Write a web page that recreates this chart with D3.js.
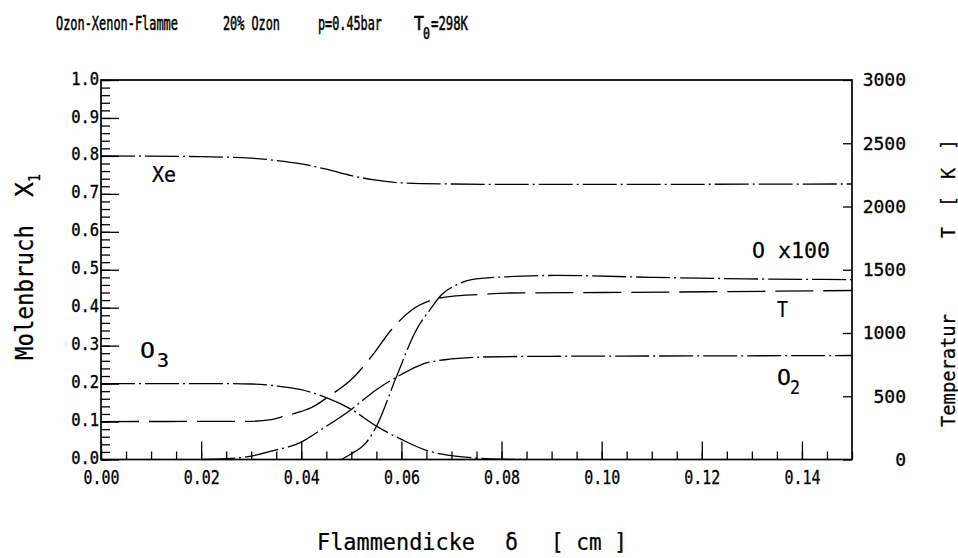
<!DOCTYPE html>
<html><head><meta charset="utf-8">
<script src="https://cdn.jsdelivr.net/npm/d3@7"></script>
<style>
body{margin:0;background:#fff}
svg{display:block}
text{font-family:"DejaVu Sans Mono","Liberation Mono",monospace;fill:#000}
</style>
</head><body>
<svg id="c" width="958" height="558"></svg>
<script>
// ---- data (x = Flammendicke in cm) ----
const xMajor = [0, 0.02, 0.04, 0.06, 0.08, 0.10, 0.12, 0.14];
const xMinor = d3.range(0, 0.1501, 0.005);
const yMajor = [0, 0.1, 0.2, 0.3, 0.4, 0.5, 0.6, 0.7, 0.8, 0.9, 1.0];
const yMinor = d3.range(0, 1.001, 0.02);
const tMajor = [0, 500, 1000, 1500, 2000, 2500, 3000];

// mole fractions (left axis)
const xe = [[0,0.800],[0.02,0.798],[0.03,0.794],[0.035,0.788],[0.04,0.779],[0.045,0.765],[0.05,0.748],[0.055,0.736],[0.06,0.729],[0.07,0.726],[0.08,0.725],[0.10,0.725],[0.15,0.726]];
const o3 = [[0,0.200],[0.025,0.200],[0.03,0.199],[0.035,0.194],[0.04,0.184],[0.045,0.163],[0.05,0.132],[0.055,0.088],[0.06,0.053],[0.065,0.024],[0.07,0.010],[0.075,0.004],[0.08,0.001],[0.085,0]];
const o2 = [[0.02,0],[0.025,0.002],[0.03,0.009],[0.034,0.022],[0.04,0.046],[0.044,0.079],[0.05,0.132],[0.055,0.184],[0.06,0.224],[0.064,0.250],[0.07,0.265],[0.076,0.270],[0.09,0.272],[0.12,0.273],[0.15,0.274]];
const oX100 = [[0.048,0],[0.05,0.015],[0.053,0.045],[0.055,0.087],[0.059,0.218],[0.063,0.342],[0.066,0.400],[0.068,0.434],[0.071,0.460],[0.074,0.474],[0.08,0.481],[0.091,0.485],[0.11,0.480],[0.129,0.476],[0.15,0.474]];
// temperature (right axis, K)
const temp = [[0,300],[0.03,302],[0.034,315],[0.0364,340],[0.04,380],[0.042,410],[0.046,513],[0.05,632],[0.054,813],[0.058,1026],[0.062,1180],[0.066,1260],[0.07,1290],[0.076,1305],[0.081,1316],[0.10,1320],[0.15,1336]];

// ---- drawing ----
const svg = d3.select("#c");
const x = d3.scaleLinear().domain([0, 0.15]).range([101, 852]);
const y = d3.scaleLinear().domain([0, 1]).range([459.5, 80]);
const yT = d3.scaleLinear().domain([0, 3000]).range([459.5, 80]);
const X0 = x.range()[0], X1 = x.range()[1], Y0 = y.range()[0], Y1 = y.range()[1];
const ADV = 0.602; // monospace advance per em

function tidy(g){
  g.select(".domain").remove();
  g.attr("font-family", null).attr("font-size", null);
  g.selectAll("line").attr("stroke", "#000").attr("stroke-width", 1.3);
}

// left axis
const gLm = svg.append("g").attr("transform", `translate(${X0},0)`)
  .call(d3.axisLeft(y).tickValues(yMinor).tickSize(-9).tickSizeOuter(0).tickFormat(""));
tidy(gLm);
const gL = svg.append("g").attr("transform", `translate(${X0},0)`)
  .call(d3.axisLeft(y).tickValues(yMajor).tickSize(-18).tickSizeOuter(0).tickPadding(2).tickFormat(d3.format(".1f")));
tidy(gL);
gL.selectAll("text").attr("font-size", 17).attr("dy", "0.24em")
  .attr("transform", `scale(${28 / (3 * ADV * 17)},1)`)
  .attr("stroke", "#000").attr("stroke-width", 0.35);

// bottom axis
const gBm = svg.append("g").attr("transform", `translate(0,${Y0})`)
  .call(d3.axisBottom(x).tickValues(xMinor).tickSize(-8).tickSizeOuter(0).tickFormat(""));
tidy(gBm);
const gB = svg.append("g").attr("transform", `translate(0,${Y0})`)
  .call(d3.axisBottom(x).tickValues(xMajor).tickSize(-18).tickSizeOuter(0).tickPadding(11).tickFormat(d3.format(".2f")));
tidy(gB);
gB.selectAll("text").attr("font-size", 19).attr("transform", `scale(${36 / (4 * ADV * 19)},1)`)
  .attr("stroke", "#000").attr("stroke-width", 0.3);

// right axis (temperature)
const gR = svg.append("g").attr("transform", `translate(${X1},0)`)
  .call(d3.axisRight(yT).tickValues(tMajor).tickSize(-9).tickSizeOuter(0).tickFormat(d3.format("d")));
tidy(gR);
gR.selectAll("text").attr("font-size", 18).attr("text-anchor", "end").attr("x", 54)
  .attr("stroke", "#000").attr("stroke-width", 0.3);

// frame
svg.append("rect").attr("x", X0).attr("y", Y1).attr("width", X1 - X0).attr("height", Y0 - Y1)
  .attr("fill", "none").attr("stroke", "#000").attr("stroke-width", 1.7);

// curves
const lineL = d3.line().x(d => x(d[0])).y(d => y(d[1])).curve(d3.curveMonotoneX);
const lineT = d3.line().x(d => x(d[0])).y(d => yT(d[1])).curve(d3.curveMonotoneX);
const dashDot = "34,4,2,4", dashed = "38,10";
function curve(data, gen, dash){
  svg.append("path").datum(data).attr("d", gen).attr("fill", "none")
    .attr("stroke", "#000").attr("stroke-width", 1.3).attr("stroke-dasharray", dash);
}
curve(xe, lineL, dashDot);
curve(o3, lineL, dashDot);
curve(o2, lineL, dashDot);
curve(oX100, lineL, dashDot);
curve(temp, lineT, dashed);

// text helper: len = wanted advance width, glyphs squeezed by a horizontal scale
function t(xp, yp, s, size, len, opts = {}){
  const sx = len ? len / (s.length * ADV * size) : 1;
  const e = svg.append("text").attr("font-size", size).text(s)
    .attr("transform", `translate(${xp},${yp})${opts.rot ? " rotate(-90)" : ""} scale(${sx},1)`);
  if (opts.anchor) e.attr("text-anchor", opts.anchor);
  e.attr("stroke", "#000").attr("stroke-width", opts.sw == null ? 0.25 : opts.sw);
  return e;
}

// title line
t(56, 30, "Ozon-Xenon-Flamme", 20, 122, {sw: 0.55});
t(223, 30, "20% Ozon", 20, 57, {sw: 0.55});
t(318, 30, "p=0.45bar", 20, 64, {sw: 0.55});
t(414, 30, "T", 20, 10, {sw: 0.55});
t(423, 39, "0", 16, 7, {sw: 0.55});
t(431, 30, "=298K", 20, 37, {sw: 0.55});

// curve labels
t(152, 182, "Xe", 21, 24);
t(140, 358, "O", 21, 15);
t(157, 367, "3", 19, 12);
t(752, 258, "O x100", 21, 78);
t(777, 317, "T", 21, 11);
t(777, 385, "O", 21, 14);
t(790, 394, "2", 19, 10);

// axis titles
t(317, 550, "Flammendicke", 23, 158);
t(505, 550, "δ", 23, 13);
t(551, 550, "[ cm ]", 23, 76);

t(33, 360, "Molenbruch", 25, 135, {rot: true});
t(33, 197, "X", 25, 15, {rot: true});
t(40, 182, "1", 16, 8, {rot: true});

t(955, 427, "Temperatur", 19, 113, {rot: true});
t(955, 238, "T", 19, 11, {rot: true});
t(955, 207, "[", 19, 11, {rot: true});
t(955, 179, "K", 19, 11, {rot: true});
t(955, 150, "]", 19, 11, {rot: true});
</script>
</body></html>
